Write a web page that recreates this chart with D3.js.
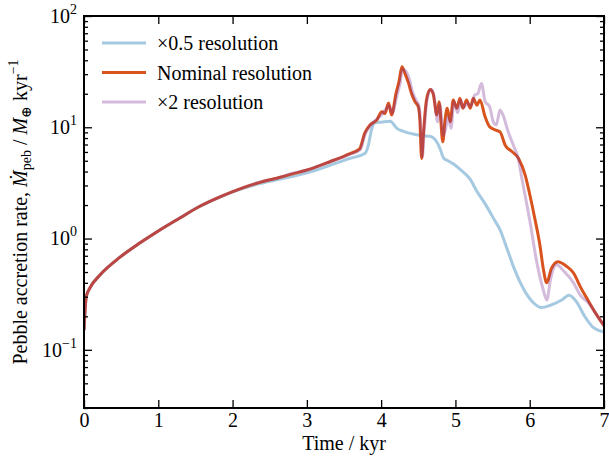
<!DOCTYPE html>
<html>
<head>
<meta charset="utf-8">
<script src="https://cdn.jsdelivr.net/npm/d3@7"></script>
<style>
  body { margin: 0; background: #fff; }
  svg { display: block; }
  svg text { font-family: "Liberation Serif", "DejaVu Serif", serif; fill: #000; }
</style>
</head>
<body>
<svg id="chart" width="609" height="461"></svg>
<script>
// ---------------- data ----------------
const seriesNames = ["×0.5 resolution", "Nominal resolution", "×2 resolution"];

const halfT = [0, 0.03, 0.08, 0.215, 0.485, 0.75, 1.0, 1.29, 1.56, 1.83, 2.1, 2.37, 2.64, 3.04, 3.31, 3.58, 3.78, 3.83, 3.87, 3.92, 4.0, 4.12, 4.15, 4.21, 4.3, 4.43, 4.55, 4.66, 4.73, 4.79, 4.84, 4.9, 4.97, 5.06, 5.2, 5.29, 5.4, 5.53, 5.6, 5.67, 5.8, 5.91, 6.05, 6.16, 6.27, 6.43, 6.53, 6.63, 6.74, 6.85, 7.0];
const halfV = [0.15, 0.30, 0.36, 0.47, 0.68, 0.91, 1.17, 1.53, 1.95, 2.36, 2.77, 3.12, 3.42, 3.95, 4.55, 5.25, 5.8, 7.0, 9.5, 11.0, 11.1, 11.3, 11.0, 9.8, 9.2, 8.7, 8.4, 8.3, 7.7, 6.5, 5.3, 5.0, 4.7, 4.2, 3.4, 2.65, 2.05, 1.45, 1.2, 0.9, 0.52, 0.36, 0.265, 0.24, 0.25, 0.28, 0.31, 0.27, 0.2, 0.16, 0.145];

const nomT = [0, 0.03, 0.08, 0.215, 0.485, 0.75, 1.0, 1.29, 1.56, 1.83, 2.1, 2.37, 2.64, 2.77, 3.04, 3.31, 3.58, 3.71, 3.78, 3.85, 3.94, 4.01, 4.05, 4.10, 4.14, 4.2, 4.24, 4.28, 4.32, 4.37, 4.41, 4.455, 4.5, 4.52, 4.545, 4.57, 4.61, 4.66, 4.70, 4.75, 4.78, 4.83, 4.86, 4.89, 4.93, 4.97, 5.02, 5.06, 5.1, 5.15, 5.2, 5.24, 5.29, 5.33, 5.40, 5.46, 5.53, 5.6, 5.67, 5.76, 5.85, 5.94, 6.0, 6.07, 6.14, 6.18, 6.23, 6.29, 6.38, 6.5, 6.59, 6.68, 6.77, 6.88, 7.0];
const nomV = [0.15, 0.30, 0.36, 0.47, 0.68, 0.91, 1.17, 1.53, 1.95, 2.37, 2.8, 3.2, 3.55, 3.75, 4.2, 4.9, 5.8, 6.4, 8.9, 10.5, 11.6, 13.8, 13.3, 16.5, 12.9, 20.2, 25.7, 35, 30.5, 24.8, 20, 17, 15.3, 12, 5.25, 8.9, 17.6, 21.9, 20, 12.9, 17, 7.4, 11.6, 14.8, 11.2, 17.6, 14.8, 18.2, 14.8, 17.6, 14.8, 18.2, 15.8, 17.6, 12.4, 10.1, 9.5, 9.1, 6.9, 6.05, 5.25, 3.7, 2.5, 1.5, 0.85, 0.55, 0.40, 0.535, 0.62, 0.56, 0.49, 0.37, 0.29, 0.217, 0.165];

const dblT = [0, 0.03, 0.08, 0.215, 0.485, 0.75, 1.0, 1.29, 1.56, 1.83, 2.1, 2.37, 2.64, 2.77, 3.04, 3.31, 3.58, 3.72, 3.78, 3.85, 3.94, 4.01, 4.06, 4.11, 4.15, 4.21, 4.25, 4.29, 4.33, 4.38, 4.42, 4.47, 4.51, 4.53, 4.555, 4.58, 4.62, 4.67, 4.71, 4.76, 4.79, 4.84, 4.87, 4.90, 4.94, 4.98, 5.03, 5.07, 5.11, 5.16, 5.21, 5.26, 5.30, 5.35, 5.40, 5.46, 5.51, 5.55, 5.6, 5.64, 5.71, 5.78, 5.85, 5.89, 5.94, 6.0, 6.09, 6.18, 6.23, 6.28, 6.36, 6.47, 6.59, 6.68, 6.79, 6.88, 7.0];
const dblV = [0.15, 0.30, 0.36, 0.47, 0.68, 0.91, 1.17, 1.53, 1.95, 2.37, 2.8, 3.22, 3.55, 3.8, 4.2, 4.9, 5.7, 6.3, 8.5, 10.3, 11.8, 13, 14.5, 15.5, 13.5, 19, 24, 33, 32, 27, 21, 17.5, 15.5, 11, 5.4, 9.5, 18, 22, 19.5, 11.2, 16, 8.5, 9.8, 12.5, 9.8, 17, 13.5, 17.5, 15, 16.5, 15.5, 19.5, 20, 24.8, 17, 15.3, 11.2, 10.5, 14.3, 12.9, 9.1, 6.9, 5.1, 3.6, 2.4, 1.47, 0.64, 0.35, 0.28, 0.43, 0.58, 0.50, 0.40, 0.31, 0.265, 0.217, 0.165];

const xTicks = [0, 1, 2, 3, 4, 5, 6, 7];
const yMajorExp = [-1, 0, 1, 2];

// ---------------- layout ----------------
const FONT = '"Liberation Serif", "DejaVu Serif", serif';
const svg = d3.select("#chart");
const L = 84, R = 604, T = 16, B = 408;

const x = d3.scaleLinear().domain([0, 7]).range([L, R]);
const y = d3.scaleLog().domain([0.03, 100]).range([B, T]);

const yMajor = yMajorExp.map(e => Math.pow(10, e));
const yMinor = [];
[-2, -1, 0, 1].forEach(e => { for (let k = 2; k <= 9; k++) { const v = k * Math.pow(10, e); if (v >= 0.03 && v <= 100) yMinor.push(v); } });

// ---------------- series ----------------
const line = d3.line().x(d => x(d[0])).y(d => y(d[1])).curve(d3.curveMonotoneX);
const zip = (a, b) => a.map((t, i) => [t, b[i]]);

const styles = [
  { stroke: "rgb(31,120,180)", opacity: 0.4, width: 3 },
  { stroke: "#d9531e", opacity: 1, width: 3 },
  { stroke: "rgb(123,50,148)", opacity: 0.33, width: 3 }
];
const data = [zip(halfT, halfV), zip(nomT, nomV), zip(dblT, dblV)];

svg.append("clipPath").attr("id", "clip").append("rect")
  .attr("x", L).attr("y", T).attr("width", R - L).attr("height", B - T);

const plot = svg.append("g").attr("clip-path", "url(#clip)");
[0, 1, 2].forEach(i => {
  plot.append("path").datum(data[i])
    .attr("d", line)
    .attr("fill", "none")
    .attr("stroke", styles[i].stroke)
    .attr("stroke-opacity", styles[i].opacity)
    .attr("stroke-width", styles[i].width)
    .attr("stroke-linejoin", "round");
});

// ---------------- axes ----------------
function styleAxis(g) {
  g.select(".domain").remove();
  g.selectAll(".tick line").attr("stroke", "#000").attr("stroke-width", 1.3);
  g.selectAll(".tick text").attr("font-size", 20).attr("font-family", FONT);
}

svg.append("g").attr("transform", `translate(0,${B})`)
  .call(d3.axisBottom(x).tickValues(xTicks).tickFormat(d3.format("d")).tickSize(-8).tickSizeOuter(0).tickPadding(5))
  .call(styleAxis);
svg.append("g").attr("transform", `translate(0,${T})`)
  .call(d3.axisTop(x).tickValues(xTicks).tickFormat("").tickSize(-8).tickSizeOuter(0))
  .call(styleAxis);
const leftAxis = svg.append("g").attr("transform", `translate(${L},0)`)
  .call(d3.axisLeft(y).tickValues(yMajor).tickFormat("").tickSize(-8).tickSizeOuter(0).tickPadding(7))
  .call(styleAxis);
svg.append("g").attr("transform", `translate(${L},0)`)
  .call(d3.axisLeft(y).tickValues(yMinor).tickFormat("").tickSize(-4).tickSizeOuter(0))
  .call(styleAxis);
svg.append("g").attr("transform", `translate(${R},0)`)
  .call(d3.axisRight(y).tickValues(yMajor).tickFormat("").tickSize(-8).tickSizeOuter(0))
  .call(styleAxis);
svg.append("g").attr("transform", `translate(${R},0)`)
  .call(d3.axisRight(y).tickValues(yMinor).tickFormat("").tickSize(-4).tickSizeOuter(0))
  .call(styleAxis);

leftAxis.selectAll(".tick").each(function(d) {
  const e = Math.round(Math.log10(d));
  const t = d3.select(this).append("text")
    .attr("x", -7).attr("y", 0).attr("dy", "0.32em")
    .attr("text-anchor", "end").attr("font-size", 20).attr("font-family", FONT);
  t.append("tspan").text("10");
  t.append("tspan").attr("dy", -9).attr("font-size", 14).text(e < 0 ? "−" + Math.abs(e) : String(e));
});

svg.append("rect").attr("x", L).attr("y", T).attr("width", R - L).attr("height", B - T)
  .attr("fill", "none").attr("stroke", "#000").attr("stroke-width", 2);

// ---------------- labels ----------------
svg.append("text").attr("x", (L + R) / 2).attr("y", 450)
  .attr("text-anchor", "middle").attr("font-size", 20).attr("font-family", FONT).text("Time / kyr");

const yl = svg.append("text")
  .attr("transform", `translate(27,212) rotate(-90)`)
  .attr("text-anchor", "middle").attr("font-size", 20).attr("font-family", FONT);
yl.append("tspan").text("Pebble accretion rate, ");
yl.append("tspan").attr("font-style", "italic").text("Ṁ");
yl.append("tspan").attr("font-size", 14).attr("dy", 4).text("peb");
yl.append("tspan").attr("dy", -4).text(" / ");
yl.append("tspan").attr("font-style", "italic").text("M");
yl.append("tspan").attr("font-size", 14).attr("dy", 4).text("⊕");
yl.append("tspan").attr("dy", -4).text(" kyr");
yl.append("tspan").attr("font-size", 14).attr("dy", -9).text("−1");

// ---------------- legend ----------------
const legend = svg.append("g");
seriesNames.forEach((name, i) => {
  const ly = 43 + i * 29.5;
  legend.append("line").attr("x1", 102).attr("x2", 146).attr("y1", ly).attr("y2", ly)
    .attr("stroke", styles[i].stroke).attr("stroke-opacity", styles[i].opacity)
    .attr("stroke-width", styles[i].width);
  legend.append("text").attr("x", 157).attr("y", ly + 7).attr("font-size", 20)
    .attr("font-family", FONT).text(name);
});
</script>
</body>
</html>
